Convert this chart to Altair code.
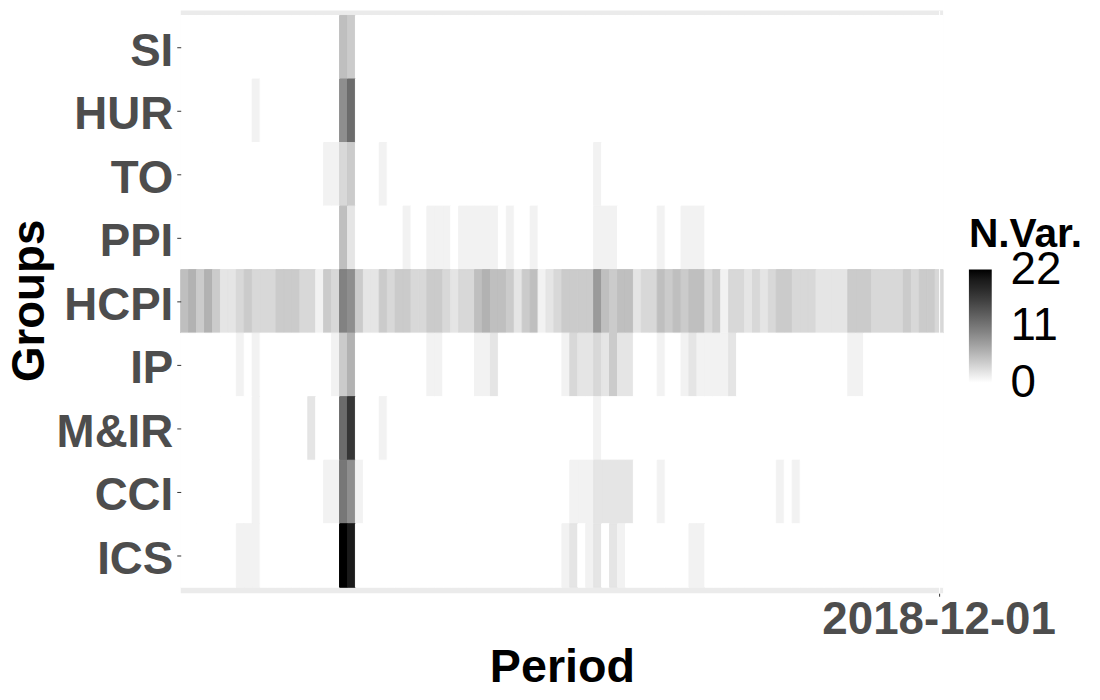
import altair as alt
import pandas as pd

GROUPS = ["SI", "HUR", "TO", "PPI", "HCPI", "IP", "M&IR", "CCI", "ICS"]
PERIODS = [d.strftime("%Y-%m-%d") for d in pd.date_range("2011-01-01", "2018-12-01", freq="MS")]

SI = [0,0,0,0,0,0,0,0,0,0,0,0,
      0,0,0,0,0,0,0,0,5,4,0,0,
      0,0,0,0,0,0,0,0,0,0,0,0,
      0,0,0,0,0,0,0,0,0,0,0,0,
      0,0,0,0,0,0,0,0,0,0,0,0,
      0,0,0,0,0,0,0,0,0,0,0,0,
      0,0,0,0,0,0,0,0,0,0,0,0,
      0,0,0,0,0,0,0,0,0,0,0,0]
HUR = [0,0,0,0,0,0,0,0,0,1,0,0,
       0,0,0,0,0,0,0,0,9,12,0,0,
       0,0,0,0,0,0,0,0,0,0,0,0,
       0,0,0,0,0,0,0,0,0,0,0,0,
       0,0,0,0,0,0,0,0,0,0,0,0,
       0,0,0,0,0,0,0,0,0,0,0,0,
       0,0,0,0,0,0,0,0,0,0,0,0,
       0,0,0,0,0,0,0,0,0,0,0,0]
TO = [0,0,0,0,0,0,0,0,0,0,0,0,
      0,0,0,0,0,0,1,1,3,4,0,0,
      0,1,0,0,0,0,0,0,0,0,0,0,
      0,0,0,0,0,0,0,0,0,0,0,0,
      0,0,0,0,1,0,0,0,0,0,0,0,
      0,0,0,0,0,0,0,0,0,0,0,0,
      0,0,0,0,0,0,0,0,0,0,0,0,
      0,0,0,0,0,0,0,0,0,0,0,0]
PPI = [0,0,0,0,0,0,0,0,0,0,0,0,
       0,0,0,0,0,0,0,0,5,2,0,0,
       0,0,0,0,1,0,0,1,1,1,0,1,
       1,1,1,1,0,1,0,0,1,0,0,0,
       0,0,0,0,1,1,1,0,0,0,0,0,
       1,0,0,1,1,1,0,0,0,0,0,0,
       0,0,0,0,0,0,0,0,0,0,0,0,
       0,0,0,0,0,0,0,0,0,0,0,0]
HCPI = [5,6,4,6,4,2,2,3,4,3,3,3,
        4,4,4,3,3,1,4,3,10,9,4,2,
        2,4,3,4,4,3,3,4,4,3,2,3,
        3,5,6,5,5,4,2,4,5,1,2,3,
        4,4,4,4,8,5,4,5,5,2,3,3,
        5,4,5,4,5,5,3,4,1,3,3,2,
        3,2,3,4,4,3,3,3,2,2,2,2,
        4,4,4,3,3,3,3,4,3,4,4,3]
IP = [0,0,0,0,0,0,0,1,0,1,0,0,
      0,0,0,0,0,0,0,1,4,6,0,0,
      0,0,0,0,0,0,0,1,1,0,0,0,
      0,1,1,2,0,0,0,0,0,0,0,0,
      1,3,2,2,3,2,4,2,2,0,0,0,
      1,0,0,1,2,1,1,1,1,2,0,0,
      0,0,0,0,0,0,0,0,0,0,0,0,
      1,1,0,0,0,0,0,0,0,0,0,0]
MIR = [0,0,0,0,0,0,0,0,0,1,0,0,
       0,0,0,0,2,0,0,0,12,17,0,0,
       0,1,0,0,0,0,0,0,0,0,0,0,
       0,0,0,0,0,0,0,0,0,0,0,0,
       0,0,0,0,1,0,0,0,0,0,0,0,
       0,0,0,0,0,0,0,0,0,0,0,0,
       0,0,0,0,0,0,0,0,0,0,0,0,
       0,0,0,0,0,0,0,0,0,0,0,0]
CCI = [0,0,0,0,0,0,0,0,0,1,0,0,
       0,0,0,0,0,0,1,1,11,9,1,0,
       0,0,0,0,0,0,0,0,0,0,0,0,
       0,0,0,0,0,0,0,0,0,0,0,0,
       0,1,1,1,2,2,2,2,2,0,0,0,
       1,0,0,0,0,0,0,0,0,0,0,0,
       0,0,0,1,0,1,0,0,0,0,0,0,
       0,0,0,0,0,0,0,0,0,0,0,0]
ICS = [0,0,0,0,0,0,0,1,1,1,0,0,
       0,0,0,0,0,0,0,0,22,20,0,0,
       0,0,0,0,0,0,0,0,0,0,0,0,
       0,0,0,0,0,0,0,0,0,0,0,0,
       1,2,0,1,2,0,2,1,0,0,0,0,
       0,0,0,0,1,1,0,0,0,0,0,0,
       0,0,0,0,0,0,0,0,0,0,0,0,
       0,0,0,0,0,0,0,0,0,0,0,0]

SERIES = [SI, HUR, TO, PPI, HCPI, IP, MIR, CCI, ICS]
LEGEND_VALUES = [0, 11, 22]

records = []
for g, vals in zip(GROUPS, SERIES):
    for p, v in zip(PERIODS, vals):
        records.append({"Period": p, "Groups": g, "NVar": v})
df = pd.DataFrame(records)

FONT = "Liberation Sans"
W, H = 768, 587

chart = alt.Chart(df).mark_rect(
    strokeWidth=1,
    stroke={"expr": "scale('color', datum.NVar)"},
).encode(
    x=alt.X(
        "Period:O",
        scale=alt.Scale(domain=PERIODS, paddingInner=0, paddingOuter=0),
        axis=alt.Axis(
            values=[PERIODS[-1]], title="Period", grid=True, gridColor="white", gridWidth=1,
            domain=False, tickSize=3, tickColor="#333333", tickWidth=1,
            labelAngle=0, labelFont=FONT, labelFontSize=46, labelFontWeight="bold",
            labelColor="#4D4D4D", labelBaseline="alphabetic", labelPadding=38,
            labelAlign="center", labelOverlap=False, labelLimit=600,
            titleFont=FONT, titleFontSize=47, titleFontWeight="bold", titleColor="black",
            titleBaseline="alphabetic", titleX=W / 2, titleY=89,
        ),
    ),
    y=alt.Y(
        "Groups:O",
        scale=alt.Scale(domain=GROUPS, paddingInner=0, paddingOuter=5.5 / 64, align=5 / 11),
        axis=alt.Axis(
            title="Groups", grid=False, domain=False, tickSize=4, tickColor="#333333",
            tickWidth=1, labelFont=FONT, labelFontSize=46, labelFontWeight="bold",
            labelColor="#4D4D4D", labelBaseline="alphabetic", labelOffset=18.5,
            labelPadding=4, labelOverlap=False, labelLimit=400,
            titleFont=FONT, titleFontSize=46, titleFontWeight="bold", titleColor="black",
            titleBaseline="alphabetic", titleAngle=270, titleX=-138, titleY=292,
            titleAlign="center",
        ),
    ),
    color=alt.Color(
        "NVar:Q",
        scale=alt.Scale(domain=[-0.01, 22.01], range=["#FFFFFF", "#000000"],
                        interpolate="lab", nice=False),
        legend=alt.Legend(
            title="N.Var.", orient="none", legendX=794, legendY=206, direction="vertical",
            gradientLength=114, gradientThickness=23, gradientStrokeWidth=0,
            values=LEGEND_VALUES, labelFont=FONT, labelFontSize=46, labelColor="black",
            labelOffset=19, labelBaseline="middle", labelOverlap=False,
            titleFont=FONT, titleFontSize=41, titleFontWeight="bold", titleColor="black",
            titlePadding=14, padding=0,
        ),
    ),
).properties(
    width=W,
    height=H,
    autosize=alt.AutoSizeParams(type="none"),
    padding={"left": 174, "top": 0, "right": 150, "bottom": 100},
).configure_view(
    fill="#EBEBEB", strokeWidth=0
)

chart.save("out.html", embed_options={"renderer": "svg", "actions": False})
